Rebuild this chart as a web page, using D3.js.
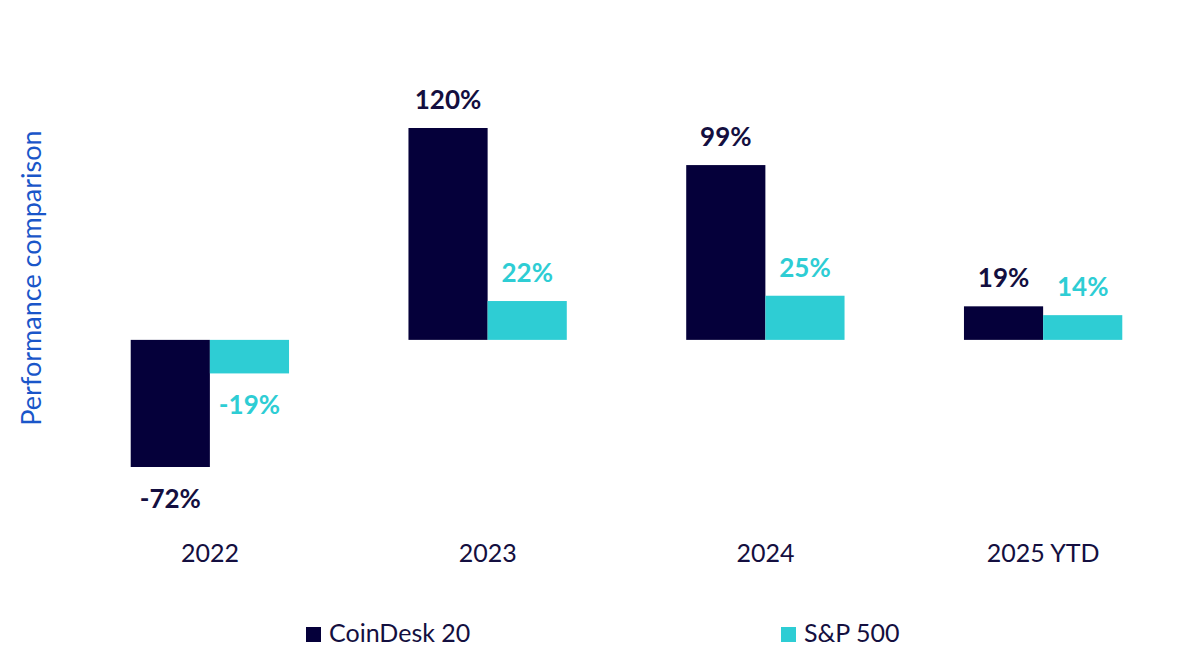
<!DOCTYPE html>
<html>
<head>
<meta charset="utf-8">
<script src="https://cdn.jsdelivr.net/npm/d3@7"></script>
<style>
  body { margin: 0; background: #fff; }
  svg { display: block; font-family: Lato, "Open Sans", sans-serif; }
</style>
</head>
<body>
<div id="chart"></div>
<script>
// DATA
const years = ["2022", "2023", "2024", "2025 YTD"];
const seriesNames = ["CoinDesk 20", "S&P 500"];
const coindesk = [-72, 120, 99, 19];
const sp500 = [-19, 22, 25, 14];

// DIMENSIONS
const width = 1200, height = 656;
const colors = {"CoinDesk 20": "#05003a", "S&P 500": "#2ecdd4"};

const rows = years.map((y, i) => ({year: y, values: [
    {key: seriesNames[0], value: coindesk[i]},
    {key: seriesNames[1], value: sp500[i]}
]}));

const svg = d3.select("#chart")
    .append("svg")
    .attr("width", width)
    .attr("height", height);

// SCALES
const x0 = d3.scaleBand()
    .domain(years)
    .range([71, 1182])
    .paddingInner(0.43)
    .paddingOuter(0.215);

const x1 = d3.scaleBand()
    .domain(seriesNames)
    .range([0, x0.bandwidth()]);

const y = d3.scaleLinear()
    .domain([-72, 120])
    .range([467, 128]);

// BARS
const groups = svg.append("g")
    .selectAll("g")
    .data(rows)
    .join("g")
    .attr("transform", d => "translate(" + x0(d.year) + ",0)");

groups.selectAll("rect")
    .data(d => d.values)
    .join("rect")
    .attr("x", d => x1(d.key))
    .attr("y", d => y(Math.max(0, d.value)))
    .attr("width", x1.bandwidth())
    .attr("height", d => Math.abs(y(d.value) - y(0)))
    .attr("fill", d => colors[d.key]);

// VALUE LABELS
groups.selectAll("text")
    .data(d => d.values)
    .join("text")
    .attr("x", d => x1(d.key) + x1.bandwidth() / 2)
    .attr("y", d => d.value >= 0 ? y(d.value) - 19 : y(d.value) + 41)
    .attr("text-anchor", "middle")
    .attr("font-size", 26)
    .attr("font-weight", "bold")
    .attr("fill", d => d.key === "S&P 500" ? "#2ecdd4" : "#140f40")
    .text(d => d.value + "%");

// X AXIS (labels only)
const xAxis = d3.axisBottom(x0).tickSize(0).tickPadding(0);
svg.append("g")
    .attr("transform", "translate(0,547)")
    .call(xAxis)
    .call(g => g.select(".domain").remove())
    .selectAll("text")
    .attr("dy", "0.6em")
    .attr("font-family", "Lato, sans-serif")
    .attr("font-size", 25)
    .attr("fill", "#140f40");

// Y TITLE
svg.append("text")
    .attr("transform", "translate(41,278) rotate(-90)")
    .attr("text-anchor", "middle")
    .attr("font-size", 27)
    .attr("fill", "#1a56c9")
    .text("Performance comparison");

// LEGEND
const legendX = [306, 781];
const legend = svg.append("g")
    .selectAll("g")
    .data(seriesNames)
    .join("g")
    .attr("transform", (d, i) => "translate(" + legendX[i] + ",627)");

legend.append("rect")
    .attr("width", 15)
    .attr("height", 15)
    .attr("fill", d => colors[d]);

legend.append("text")
    .attr("x", 23)
    .attr("y", 15)
    .attr("font-size", 25)
    .attr("fill", "#140f40")
    .text(d => d);
</script>
</body>
</html>
